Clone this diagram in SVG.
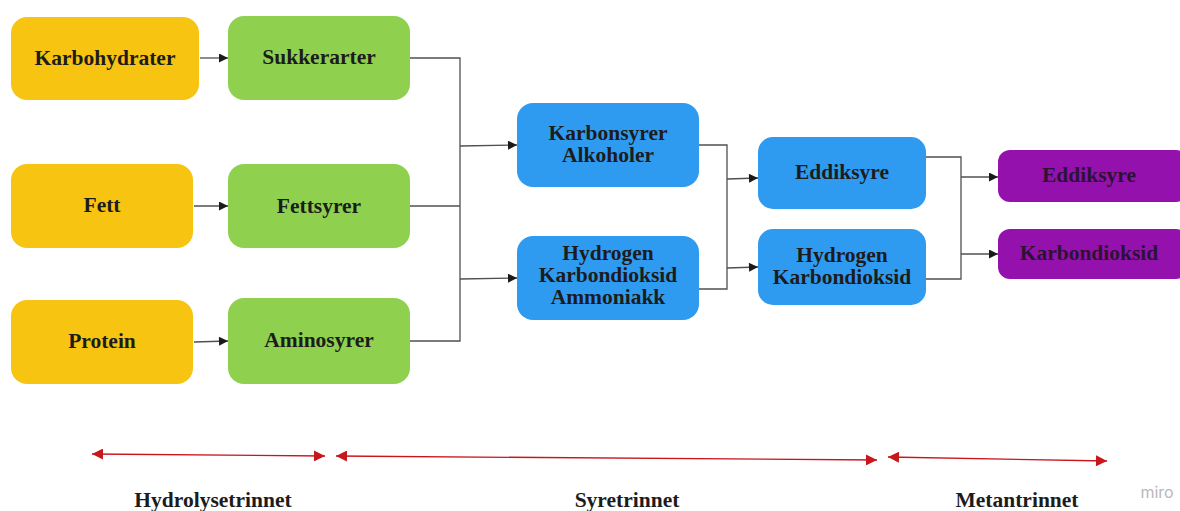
<svg xmlns="http://www.w3.org/2000/svg" width="1180" height="511" viewBox="0 0 1180 511">
<defs>
<marker id="ah" viewBox="0 0 10 10" refX="10" refY="5" markerWidth="10" markerHeight="9" markerUnits="userSpaceOnUse" orient="auto"><path d="M0,0 L10,5 L0,10 Z" fill="#1a1a1a"/></marker>
<marker id="rh" viewBox="0 0 10 10" refX="10" refY="5" markerWidth="12" markerHeight="11" markerUnits="userSpaceOnUse" orient="auto-start-reverse"><path d="M0,0 L10,5 L0,10 Z" fill="#c8161d"/></marker>
<style>
.t{font-family:"Liberation Serif","Times New Roman",serif;font-weight:bold;font-size:21.5px;text-anchor:middle;fill:#1c1c1c}
.p{fill:#2e1233}
.y{fill:#F8C412}
.g{fill:#8FD14F}
.b{fill:#2F9BF0}
.v{fill:#9411AD}
.c{fill:none;stroke:#505050;stroke-width:1.3}
.r{fill:none;stroke:#c8161d;stroke-width:1.3}
.lab{font-family:"Liberation Serif","Times New Roman",serif;font-weight:bold;font-size:21.5px;text-anchor:middle;fill:#1c1c1c}
</style>
</defs>
<rect width="1180" height="511" fill="#ffffff"/>

<g id="connectors">
<path class="c" d="M200,58 L228,58" marker-end="url(#ah)"/>
<path class="c" d="M194,206 L228,206" marker-end="url(#ah)"/>
<path class="c" d="M194,342 L228,341" marker-end="url(#ah)"/>
<path class="c" d="M410,58 L460,58 L460,341 L410,341"/>
<path class="c" d="M410,206 L460,206"/>
<path class="c" d="M460,146 L517,145" marker-end="url(#ah)"/>
<path class="c" d="M460,279 L517,278" marker-end="url(#ah)"/>
<path class="c" d="M699,145 L727,145 L727,289 L699,289"/>
<path class="c" d="M727,179 L758,178" marker-end="url(#ah)"/>
<path class="c" d="M727,268 L758,267" marker-end="url(#ah)"/>
<path class="c" d="M926,157 L961,157 L961,279 L926,279"/>
<path class="c" d="M961,177 L998,177" marker-end="url(#ah)"/>
<path class="c" d="M961,254 L998,254" marker-end="url(#ah)"/>
<path class="r" d="M92,454 L325,456" marker-start="url(#rh)" marker-end="url(#rh)"/>
<path class="r" d="M336,456 L877,460" marker-start="url(#rh)" marker-end="url(#rh)"/>
<path class="r" d="M888,457 L1107,461" marker-start="url(#rh)" marker-end="url(#rh)"/>
</g>

<g id="karbohydrater"><rect class="y" x="11" y="17" width="188" height="83" rx="16"/><text class="t" x="105" y="65">Karbohydrater</text></g>
<g id="fett"><rect class="y" x="11" y="164" width="182" height="84" rx="16"/><text class="t" x="102" y="212">Fett</text></g>
<g id="protein"><rect class="y" x="11" y="300" width="182" height="84" rx="16"/><text class="t" x="102" y="348">Protein</text></g>

<g id="sukkerarter"><rect class="g" x="228" y="16" width="182" height="84" rx="16"/><text class="t" x="319" y="64">Sukkerarter</text></g>
<g id="fettsyrer"><rect class="g" x="228" y="164" width="182" height="84" rx="16"/><text class="t" x="319" y="213">Fettsyrer</text></g>
<g id="aminosyrer"><rect class="g" x="228" y="298" width="182" height="86" rx="16"/><text class="t" x="319" y="347">Aminosyrer</text></g>

<g id="karbonsyrer"><rect class="b" x="517" y="103" width="182" height="84" rx="16"/><text class="t" x="608" y="140">Karbonsyrer</text><text class="t" x="608" y="162">Alkoholer</text></g>
<g id="hydrogen1"><rect class="b" x="517" y="236" width="182" height="84" rx="16"/><text class="t" x="608" y="260">Hydrogen</text><text class="t" x="608" y="282">Karbondioksid</text><text class="t" x="608" y="304">Ammoniakk</text></g>

<g id="eddiksyre1"><rect class="b" x="758" y="137" width="168" height="72" rx="15"/><text class="t" x="842" y="179">Eddiksyre</text></g>
<g id="hydrogen2"><rect class="b" x="758" y="229" width="168" height="76" rx="15"/><text class="t" x="842" y="262">Hydrogen</text><text class="t" x="842" y="284">Karbondioksid</text></g>

<g id="eddiksyre2"><rect class="v" x="998" y="150" width="190" height="52" rx="12"/><text class="t p" x="1089" y="182">Eddiksyre</text></g>
<g id="karbondioksid"><rect class="v" x="998" y="229" width="190" height="50" rx="12"/><text class="t p" x="1089" y="260">Karbondioksid</text></g>

<g id="labels">
<text class="lab" x="213" y="507">Hydrolysetrinnet</text>
<text class="lab" x="627" y="507">Syretrinnet</text>
<text class="lab" x="1017" y="507">Metantrinnet</text>
<text x="1157" y="498" font-family="Inter,'Noto Sans',sans-serif" font-size="16" text-anchor="middle" fill="#b8b8b8">miro</text>
</g>
</svg>
